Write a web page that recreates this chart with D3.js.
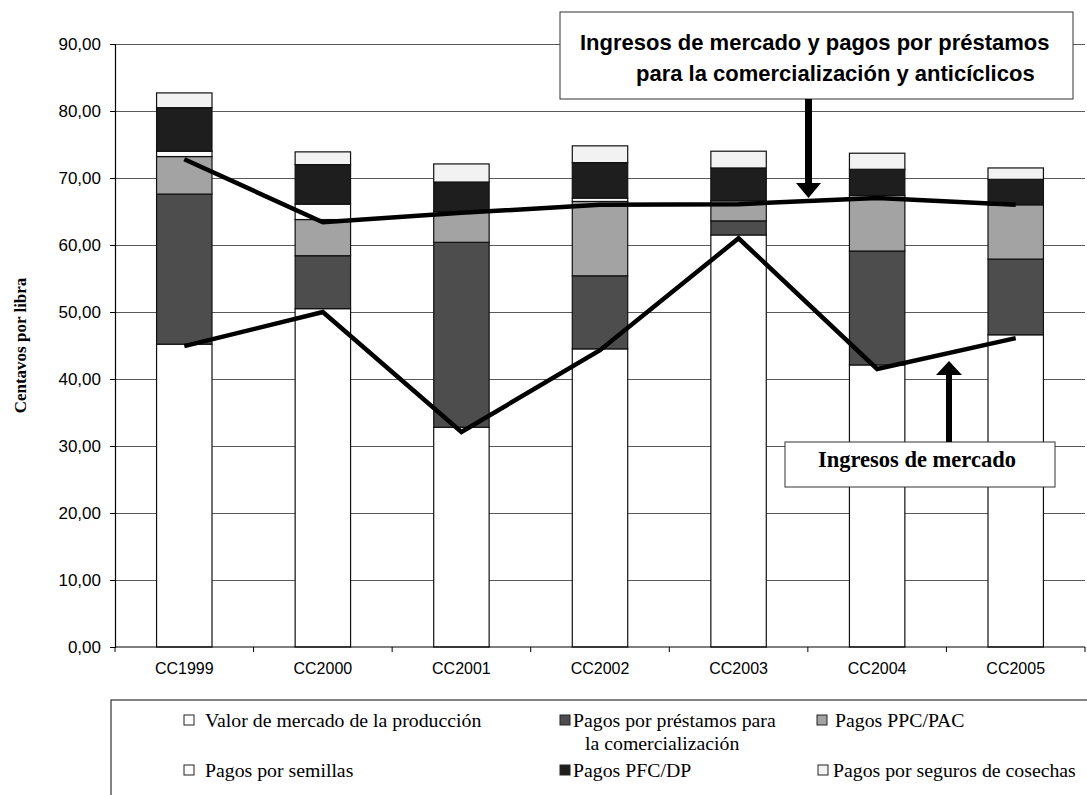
<!DOCTYPE html>
<html>
<head>
<meta charset="utf-8">
<script src="https://cdn.jsdelivr.net/npm/d3@7"></script>
<style>
  body { margin: 0; background: #fff; }
  svg { display: block; }
</style>
</head>
<body>
<script>
//chart data (cents per pound)
var categories = ["CC1999", "CC2000", "CC2001", "CC2002", "CC2003", "CC2004", "CC2005"];

var valorMercado = [45.2, 50.5, 32.8, 44.5, 61.5, 42.1, 46.6];
var pagosPrestamos = [22.4, 7.9, 27.6, 10.9, 2.1, 17.0, 11.3];
var pagosPPC = [5.6, 5.4, 4.6, 11.1, 3.0, 8.3, 8.1];
var pagosSemillas = [0.8, 2.3, 0.0, 0.5, 0.0, 0.0, 0.0];
var pagosPFC = [6.5, 5.9, 4.4, 5.3, 4.9, 3.9, 3.8];
var pagosSeguros = [2.2, 1.9, 2.7, 2.5, 2.5, 2.4, 1.7];

var lineaMercado = [44.9, 50.0, 32.1, 44.3, 61.0, 41.5, 46.1];
var lineaMercadoPrestamos = [72.8, 63.4, 64.8, 66.0, 66.1, 67.0, 66.0];

var yTicks = [0, 10, 20, 30, 40, 50, 60, 70, 80, 90];

var seriesNames = ["Valor de mercado de la producción", "Pagos por préstamos para la comercialización",
    "Pagos PPC/PAC", "Pagos por semillas", "Pagos PFC/DP", "Pagos por seguros de cosechas"];
var seriesColors = ["#ffffff", "#4d4d4d", "#a3a3a3", "#fcfcfc", "#1e1e1e", "#f2f2f2"];

window.onload = drawChart();

function drawChart(){

    var width = 1087,
        height = 795;

    var svg = d3.select("body")
        .append("svg")
        .attr("width", width)
        .attr("height", height);

    //plot area
    var left = 115, right = 1085, top = 44, bottom = 647;

    var x = d3.scaleBand()
        .domain(categories)
        .range([left, right])
        .paddingInner(0.6)
        .paddingOuter(0.3);

    var y = d3.scaleLinear()
        .domain([0, 90])
        .range([bottom, top]);

    //gridlines
    svg.append("g")
        .selectAll("line")
        .data(yTicks.slice(1))
        .enter()
        .append("line")
        .attr("x1", left)
        .attr("x2", right)
        .attr("y1", function(d){ return y(d); })
        .attr("y2", function(d){ return y(d); })
        .attr("stroke", "#5a5a5a")
        .attr("stroke-width", 1)
        .attr("shape-rendering", "crispEdges");

    //build rows for the stack
    var rows = categories.map(function(c, i){
        return {cat: c, s0: valorMercado[i], s1: pagosPrestamos[i], s2: pagosPPC[i],
            s3: pagosSemillas[i], s4: pagosPFC[i], s5: pagosSeguros[i]};
    });
    var stack = d3.stack().keys(["s0", "s1", "s2", "s3", "s4", "s5"]);
    var layers = stack(rows);

    svg.append("g")
        .selectAll("g")
        .data(layers)
        .enter()
        .append("g")
        .attr("fill", function(d, i){ return seriesColors[i]; })
        .selectAll("rect")
        .data(function(d){ return d; })
        .enter()
        .append("rect")
        .attr("x", function(d){ return x(d.data.cat); })
        .attr("width", x.bandwidth())
        .attr("y", function(d){ return y(d[1]); })
        .attr("height", function(d){ return y(d[0]) - y(d[1]); })
        .attr("stroke", function(d){ return d[1] - d[0] > 0 ? "#111" : "none"; })
        .attr("stroke-width", 1.2);

    //axes
    var yAxis = d3.axisLeft(y)
        .tickValues(yTicks)
        .tickSize(5)
        .tickFormat(function(d){ return d3.format(".2f")(d).replace(".", ","); });

    var yG = svg.append("g")
        .attr("transform", "translate(" + left + ",0)")
        .call(yAxis);
    yG.select(".domain").attr("stroke", "#000").attr("stroke-width", 1.2);
    yG.selectAll(".tick line").attr("stroke", "#000");
    yG.selectAll(".tick text")
        .attr("x", -14)
        .style("font-family", "Arial, 'Liberation Sans', sans-serif")
        .style("font-size", "17px")
        .attr("fill", "#000");

    //x axis line with ticks at category boundaries
    svg.append("line")
        .attr("x1", left).attr("x2", right)
        .attr("y1", bottom).attr("y2", bottom)
        .attr("stroke", "#000").attr("stroke-width", 1.2);

    svg.append("g")
        .selectAll("line")
        .data(d3.range(categories.length + 1))
        .enter()
        .append("line")
        .attr("x1", function(d){ return left + d * x.step(); })
        .attr("x2", function(d){ return left + d * x.step(); })
        .attr("y1", bottom)
        .attr("y2", bottom + 5)
        .attr("stroke", "#000");

    svg.append("g")
        .selectAll("text")
        .data(categories)
        .enter()
        .append("text")
        .attr("x", function(d){ return x(d) + x.bandwidth() / 2; })
        .attr("y", bottom + 27)
        .attr("text-anchor", "middle")
        .style("font-family", "Arial, 'Liberation Sans', sans-serif")
        .style("font-size", "16px")
        .text(function(d){ return d; });

    //y axis title
    svg.append("text")
        .attr("transform", "translate(26," + ((top + bottom) / 2) + ") rotate(-90)")
        .attr("text-anchor", "middle")
        .style("font-family", "'Times New Roman', 'Liberation Serif', serif")
        .style("font-weight", "bold")
        .style("font-size", "17px")
        .text("Centavos por libra");

    //lines
    var line = d3.line()
        .x(function(d, i){ return x(categories[i]) + x.bandwidth() / 2; })
        .y(function(d){ return y(d); });

    svg.append("path")
        .datum(lineaMercadoPrestamos)
        .attr("d", line)
        .attr("fill", "none")
        .attr("stroke", "#000")
        .attr("stroke-width", 4.5);

    svg.append("path")
        .datum(lineaMercado)
        .attr("d", line)
        .attr("fill", "none")
        .attr("stroke", "#000")
        .attr("stroke-width", 4.5);

    //annotation: top box
    svg.append("rect")
        .attr("x", 560).attr("y", 12)
        .attr("width", 513).attr("height", 87)
        .attr("fill", "#fff").attr("stroke", "#333").attr("stroke-width", 1);

    svg.append("text")
        .attr("x", 580).attr("y", 50)
        .style("font-family", "Arial, 'Liberation Sans', sans-serif")
        .style("font-weight", "bold")
        .style("font-size", "22px")
        .text("Ingresos de mercado y pagos por préstamos");
    svg.append("text")
        .attr("x", 636).attr("y", 81)
        .style("font-family", "Arial, 'Liberation Sans', sans-serif")
        .style("font-weight", "bold")
        .style("font-size", "22px")
        .text("para la comercialización y anticíclicos");

    //arrow down
    svg.append("rect")
        .attr("x", 805).attr("y", 99).attr("width", 7).attr("height", 85)
        .attr("fill", "#000");
    svg.append("path")
        .attr("d", "M796,183 L821,183 L808.5,198 Z")
        .attr("fill", "#000");

    //annotation: bottom box
    svg.append("rect")
        .attr("x", 785).attr("y", 442)
        .attr("width", 270).attr("height", 45)
        .attr("fill", "#fff").attr("stroke", "#333").attr("stroke-width", 1);

    svg.append("text")
        .attr("x", 818).attr("y", 467)
        .style("font-family", "'Times New Roman', 'Liberation Serif', serif")
        .style("font-weight", "bold")
        .style("font-size", "22.5px")
        .text("Ingresos de mercado");

    //arrow up
    svg.append("rect")
        .attr("x", 946).attr("y", 374).attr("width", 6).attr("height", 68)
        .attr("fill", "#000");
    svg.append("path")
        .attr("d", "M936,375 L962,375 L949,361 Z")
        .attr("fill", "#000");

    //legend
    svg.append("rect")
        .attr("x", 111).attr("y", 700)
        .attr("width", 1000).attr("height", 120)
        .attr("fill", "#fff").attr("stroke", "#333").attr("stroke-width", 1.2);

    var legendPos = [
        {sx: 184, tx: 205, y: 727},
        {sx: 560, tx: 573, y: 727},
        {sx: 817, tx: 835, y: 727},
        {sx: 184, tx: 205, y: 777},
        {sx: 560, tx: 573, y: 777},
        {sx: 818, tx: 833, y: 777}
    ];

    var leg = svg.append("g")
        .selectAll("g")
        .data(seriesNames)
        .enter()
        .append("g");

    leg.append("rect")
        .attr("x", function(d, i){ return legendPos[i].sx; })
        .attr("y", function(d, i){ return legendPos[i].y - 12; })
        .attr("width", 10)
        .attr("height", 10)
        .attr("fill", function(d, i){ return seriesColors[i]; })
        .attr("stroke", "#222");

    leg.append("text")
        .attr("x", function(d, i){ return legendPos[i].tx; })
        .attr("y", function(d, i){ return legendPos[i].y; })
        .style("font-family", "'Times New Roman', 'Liberation Serif', serif")
        .style("font-size", "19.8px")
        .each(function(d, i){
            var t = d3.select(this);
            if (i == 1) {
                t.append("tspan").attr("x", legendPos[i].tx).text("Pagos por préstamos para");
                t.append("tspan").attr("x", 585).attr("dy", 23).text("la comercialización");
            } else {
                t.text(d);
            }
        });
};
</script>
</body>
</html>
